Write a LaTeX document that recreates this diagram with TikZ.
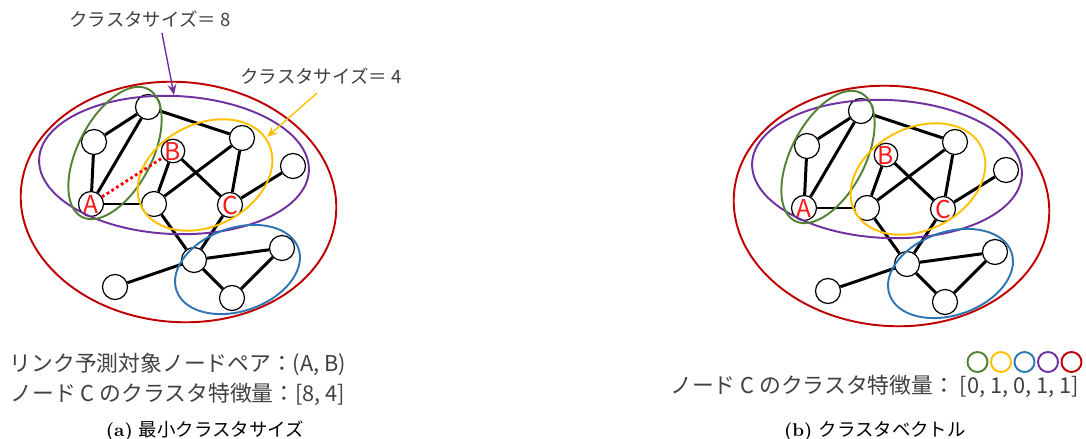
\documentclass[tikz,border=0pt]{standalone}
\usepackage{fontspec}
\newfontfamily\jpfont{Noto Sans CJK JP}
\usepackage{xcolor}
\definecolor{clusRed}{RGB}{192,0,0}
\definecolor{clusPurple}{RGB}{112,48,160}
\definecolor{clusGreen}{RGB}{84,130,53}
\definecolor{clusYellow}{RGB}{255,192,0}
\definecolor{clusBlue}{RGB}{46,117,182}
\definecolor{noteGray}{RGB}{64,64,64}
\definecolor{letterRed}{RGB}{255,25,25}
\usetikzlibrary{arrows.meta,positioning}

\begin{document}
\begin{tikzpicture}[
    x=0.02cm, y=-0.02cm,
    every node/.style={font=\jpfont},
    vtx/.style={circle, draw, line width=0.7pt, fill=white, minimum size=0.5cm, inner sep=0pt},
    letter/.style={text=letterRed, font=\jpfont\fontsize{14}{14}\selectfont},
    edge/.style={line width=1.7pt},
    clus/.style={line width=1.1pt},
    ring/.style={circle, line width=1.1pt, minimum size=0.4cm, inner sep=0pt},
    note/.style={text=noteGray, font=\jpfont\fontsize{10.5}{12}\selectfont},
    big/.style={text=noteGray, font=\jpfont\fontsize{12.4}{17}\selectfont, align=center},
    captext/.style={font=\fontsize{10.5}{12}\selectfont},
    arr/.style={-{Stealth[length=6pt,width=5pt]}, line width=0.8pt}
  ]
  \useasboundingbox (0,0) rectangle (1086,439);

  % the same graph twice: (a) left, (b) right
  \foreach \p/\dx/\dy in {a/0/0,b/713/4}{
    \begin{scope}[shift={(\dx,\dy)}]
      % graph nodes
      \node[vtx] (\p-T)  at (148,107) {};
      \node[vtx] (\p-UL) at (94,142) {};
      \node[vtx, label={[letter]center:A}] (\p-A) at (91,204) {};
      \node[vtx, minimum size=0.47cm, label={[letter]center:B}] (\p-B) at (173,151) {};
      \node[vtx] (\p-M)  at (154,204) {};
      \node[vtx] (\p-R)  at (242,138) {};
      \node[vtx, label={[letter]center:C}] (\p-C) at (230,205) {};
      \node[vtx] (\p-FR) at (293,166) {};
      \node[vtx] (\p-H)  at (194,260) {};
      \node[vtx] (\p-BR) at (282,248) {};
      \node[vtx] (\p-BB) at (232,298) {};
      \node[vtx] (\p-BL) at (115,287) {};
      % edges
      \foreach \s/\t in {T/UL,T/A,T/R,UL/A,A/M,B/M,B/C,M/R,R/C,C/FR,M/H,C/H,H/BL,H/BR,H/BB,BB/BR}
        \draw[edge] (\p-\s) -- (\p-\t);
      % clusters
      \draw[clus, clusRed, rotate around={-4.6:(178.5,202)}] (178.5,202) ellipse [x radius=158, y radius=120];
      \draw[clus, clusPurple, rotate around={-2.5:(174,165)}] (174,165) ellipse [x radius=135, y radius=69];
      \draw[clus, clusGreen, rotate around={62.6:(115,153)}] (115,153) ellipse [x radius=72, y radius=37];
      \draw[clus, clusYellow, rotate around={27:(205,175)}] (205,175) ellipse [x radius=71, y radius=51];
      \draw[clus, clusBlue, rotate around={19:(237.5,269.5)}] (237.5,269.5) ellipse [x radius=64.5, y radius=41.6];
    \end{scope}
  }

  % link prediction pair
  \draw[red, line width=1.6pt, dash pattern=on 1.6pt off 1.6pt] (a-A) -- (a-B);

  % cluster size labels
  \node[note] (size8) at (150,19) {クラスタサイズ＝ 8};
  \node[note] (size4) at (321,76) {クラスタサイズ＝ 4};
  \coordinate (tail8) at (162,33);
  \coordinate (tip8) at (174,95);
  \coordinate (tail4) at (317,93);
  \coordinate (tip4) at (267,137);
  \draw[arr, clusPurple] (tail8) -- (tip8);
  \draw[arr, clusYellow] (tail4) -- (tip4);

  % features
  \node[big] (featA) at (178,379) {リンク予測対象ノードペア：(A, B)\\ノード C のクラスタ特徴量：[8, 4]};
  \node[big, anchor=east] (featB) at (1085,386) {ノード C のクラスタ特徴量： [0, 1, 0, 1, 1]};
  \foreach \c [count=\i] in {clusGreen,clusYellow,clusBlue,clusPurple,clusRed}
    \node[ring, draw=\c] (ring\i) at (954+23.5*\i,362) {};

  % captions
  \node[captext] (capA) at (205,431) {\textbf{(a)} {\jpfont 最小クラスタサイズ}};
  \node[captext] (capB) at (875,431) {\textbf{(b)} {\jpfont クラスタベクトル}};
\end{tikzpicture}
\end{document}
